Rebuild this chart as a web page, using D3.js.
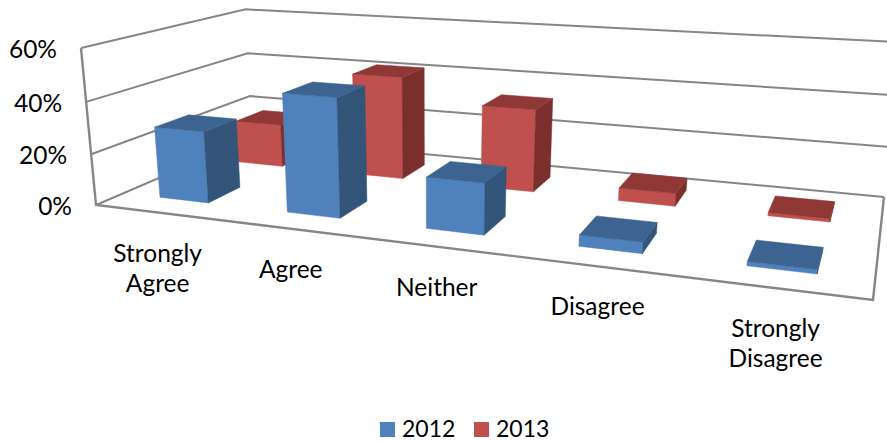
<!DOCTYPE html>
<html>
<head>
<meta charset="utf-8">
<script src="https://cdnjs.cloudflare.com/ajax/libs/d3/7.8.5/d3.min.js"></script>
<style>
  html, body { margin: 0; padding: 0; background: #fff; }
  text { font-family: Lato, "Open Sans", sans-serif; fill: #000; }
</style>
</head>
<body>
<svg id="chart"></svg>
<script>
const categories = [["Strongly", "Agree"], ["Agree"], ["Neither"], ["Disagree"], ["Strongly", "Disagree"]];
const seriesNames = ["2012", "2013"];
const values2012 = [0.28, 0.45, 0.19, 0.04, 0.015];
const values2013 = [0.18, 0.42, 0.33, 0.05, 0.012];
const tickValues = [0, 0.2, 0.4, 0.6];

const width = 887;
const height = 441;

const svg = d3.select("#chart")
    .attr("width", width)
    .attr("height", height)
    .style("display", "block");

// camera: floor corners on screen (front-left, front-right, back-right, back-left),
// top of the left axis, and the point where verticals meet
const floorQuad = [[96, 205], [873, 300], [884, 197], [252, 138]];
const axisTop = [81, 48];
const verticalVanish = [430, 3700];

function makeCamera(q) {
    const [[x0, y0], [x1, y1], [x2, y2], [x3, y3]] = q;
    const dx1 = x1 - x2, dx2 = x3 - x2, sx = x0 - x1 + x2 - x3;
    const dy1 = y1 - y2, dy2 = y3 - y2, sy = y0 - y1 + y2 - y3;
    const den = dx1 * dy2 - dx2 * dy1;
    const g = (sx * dy2 - dx2 * sy) / den;
    const h = (dx1 * sy - sx * dy1) / den;
    const a = x1 - x0 + g * x1, b = x3 - x0 + h * x3;
    const d = y1 - y0 + g * y1, e = y3 - y0 + h * y3;
    // height term, from the vanishing point and the axis top
    const i = (axisTop[0] - x0) / (verticalVanish[0] - axisTop[0]);
    const c = verticalVanish[0] * i, f = verticalVanish[1] * i;
    return (u, v, t) => {
        const w = g * u + h * v + i * t + 1;
        return [(a * u + b * v + c * t + x0) / w, (d * u + e * v + f * t + y0) / w];
    };
}

const camera = makeCamera(floorQuad);

// scales
const xScale = d3.scaleBand()
    .domain(d3.range(categories.length))
    .range([-0.001, 0.999])
    .paddingInner(0.61)
    .paddingOuter(0.305);

const depthScale = d3.scaleBand()
    .domain(seriesNames)
    .range([0, 1])
    .paddingInner(0.6)
    .paddingOuter(0.3);

const yScale = d3.scaleLinear()
    .domain([0, 0.6])
    .range([0, 1]);

// u along categories, v into depth, value up
function project(u, v, value) {
    return camera(u, v, yScale(value));
}

const line = d3.line();

// 벽면 격자선
svg.selectAll(".grid")
    .data(tickValues)
    .enter()
    .append("path")
    .attr("class", "grid")
    .attr("d", d => line([project(0, 0, d), project(0, 1, d), project(1, 1, d)]))
    .attr("fill", "none")
    .attr("stroke", "#868686")
    .attr("stroke-width", 2);

// floor outline and left axis
svg.append("path")
    .attr("d", line([project(0, 0, 0.6), project(0, 0, 0), project(1, 0, 0), project(1, 1, 0)]))
    .attr("fill", "none")
    .attr("stroke", "#868686")
    .attr("stroke-width", 2.4);

// bars
const colors = {
    "2012": { front: "#4F81BD", top: "#3D6491", side: "#325579" },
    "2013": { front: "#C0504D", top: "#8F3836", side: "#7B2F2D" }
};

function drawBars(name, values) {
    const v0 = depthScale(name), v1 = v0 + depthScale.bandwidth();
    const g = svg.append("g").attr("class", "series-" + name);
    const bars = values.map((value, i) => ({ i, value })).reverse();

    const faces = [
        { key: "front", pts: (u0, u1, val) => [project(u0, v0, 0), project(u1, v0, 0), project(u1, v0, val), project(u0, v0, val)] },
        { key: "side", pts: (u0, u1, val) => [project(u1, v0, 0), project(u1, v1, 0), project(u1, v1, val), project(u1, v0, val)] },
        { key: "top", pts: (u0, u1, val) => [project(u0, v0, val), project(u1, v0, val), project(u1, v1, val), project(u0, v1, val)] }
    ];

    bars.forEach(d => {
        const u0 = xScale(d.i), u1 = u0 + xScale.bandwidth();
        g.selectAll(".face-" + d.i)
            .data(faces)
            .enter()
            .append("polygon")
            .attr("points", f => f.pts(u0, u1, d.value).join(" "))
            .attr("fill", f => colors[name][f.key])
            .attr("stroke", f => colors[name][f.key])
            .attr("stroke-width", 0.5);
    });
}

drawBars("2013", values2013);
drawBars("2012", values2012);

// y tick labels
svg.selectAll(".tick-label")
    .data(tickValues)
    .enter()
    .append("text")
    .attr("class", "tick-label")
    .attr("x", d => project(0, 0, d)[0] - 24)
    .attr("y", d => project(0, 0, d)[1] + 10)
    .attr("text-anchor", "end")
    .attr("font-size", 24.5)
    .text(d => d3.format(".0%")(d));

// category labels
const catLabels = svg.selectAll(".cat-label")
    .data(categories)
    .enter()
    .append("text")
    .attr("class", "cat-label")
    .attr("text-anchor", "middle")
    .attr("font-size", 24.5)
    .attr("transform", (d, i) => {
        const p = project(xScale(i) + xScale.bandwidth() / 2, 0, 0);
        return `translate(${p[0]},${p[1] + 49})`;
    });

catLabels.selectAll("tspan")
    .data(d => d)
    .enter()
    .append("tspan")
    .attr("x", 0)
    .attr("dy", (d, i) => i === 0 ? 0 : 30)
    .text(d => d);

// legend
const legendX = d3.scalePoint()
    .domain(seriesNames)
    .range([380, 474]);

const legend = svg.selectAll(".legend")
    .data(seriesNames)
    .enter()
    .append("g")
    .attr("class", "legend")
    .attr("transform", d => `translate(${legendX(d)},422)`);

legend.append("rect")
    .attr("width", 15)
    .attr("height", 15)
    .attr("fill", d => colors[d].front);

legend.append("text")
    .attr("x", 22)
    .attr("y", 15)
    .attr("font-size", 23)
    .text(d => d);
</script>
</body>
</html>
